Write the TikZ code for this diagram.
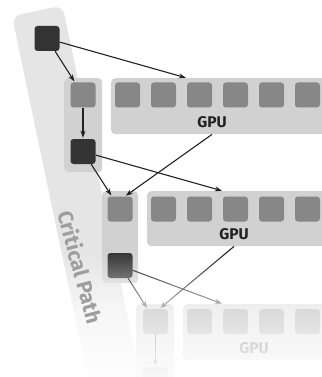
\documentclass[tikz,border=0pt]{standalone}
\usepackage{fontspec}
\setmainfont{Fira Sans}
\usetikzlibrary{arrows.meta,fadings}
\tikzfading[name=fadeA, top color=transparent!100, bottom color=transparent!30]
\tikzfading[name=fadeB, top color=transparent!30, bottom color=transparent!6]
\begin{document}
\begin{tikzpicture}[x=1pt,y=-1pt,
    tile/.style={rounded corners=3pt,minimum size=25pt,inner sep=0pt},
    darktile/.style={tile,fill=black!80},
    midtile/.style={tile,fill=black!47},
    holder/.style={fill=black!18,rounded corners=4pt,inner sep=0pt,anchor=north west},
    lbl/.style={font=\bfseries\fontsize{15.5}{15.5}\selectfont,text=black!87,inner sep=0pt},
    arr/.style={-{Stealth[length=7pt,width=5pt]},line width=1.1pt,black!87,shorten >=1pt}]
  \useasboundingbox (0,0) rectangle (321,377);
  % critical path band
  \fill[black!10,rounded corners=9pt] (12,16) -- (62.5,5.5) -- (144.5,397) -- (94,407.5) -- cycle;
  % holders
  \node[holder,minimum width=38pt,minimum height=94pt] (c1) at (64,78) {};
  \node[holder,minimum width=220pt,minimum height=56pt] (g1) at (111,78) {};
  \node[holder,minimum width=36pt,minimum height=92pt] (c2) at (102,191) {};
  \node[holder,minimum width=184pt,minimum height=55pt] (g2) at (147,191) {};
  \node[holder,minimum width=38pt,minimum height=90pt] (c3) at (136,304) {};
  \node[holder,minimum width=148pt,minimum height=56pt] (g3) at (183,304) {};
  % tasks
  \node[darktile] (t0) at (47,38.5) {};
  \node[midtile] (m1) at (83,95) {};
  \node[darktile] (d1) at (83,151.5) {};
  \node[midtile] (m2) at (120,209) {};
  \node[darktile] (d2) at (120,265.5) {};
  \node[midtile] (m3) at (155.5,321.5) {};
  \node[midtile] (m4) at (155.5,379.5) {};
  \foreach \i in {1,...,6} \node[midtile] (g1s\i) at ({91.5+36*\i},95) {};
  \foreach \i in {1,...,5} \node[midtile] (g2s\i) at ({127.5+36*\i},209) {};
  \foreach \i in {1,...,4} \node[midtile] (g3s\i) at ({163.5+36*\i},321.5) {};
  \node[lbl] (g1l) at (212,122) {GPU};
  \node[lbl] (g2l) at (234,234) {GPU};
  \node[lbl] (g3l) at (254,348) {GPU};
  % launches
  \draw[arr] (t0) -- (g1s3.north west |- g1.north);
  \draw[arr] (t0) -- (m1);
  \draw[arr] (m1) -- (d1);
  \draw[arr] (d1) -- (g2s3.north west |- g2.north);
  \draw[arr] (d1) -- (m2);
  \draw[arr] (g1l |- g1.south) -- ([xshift=5pt]m2.north);
  \draw[arr] (d2) -- (g3s2.north west |- g3.north);
  \draw[arr] (d2) -- (m3);
  \draw[arr] (g2l |- g2.south) -- ([xshift=4pt]m3.north);
  \draw[arr] (m3) -- (m4);
  % fade out
  \fill[white,path fading=fadeA] (-1,252) rectangle (322,310);
  \fill[white,path fading=fadeB] (-1,310) rectangle (322,378);
  \node[rotate=-75,text=black!38,font=\bfseries\fontsize{21}{21}\selectfont] (cp) at (80.5,267) {Critical Path};
\end{tikzpicture}
\end{document}
